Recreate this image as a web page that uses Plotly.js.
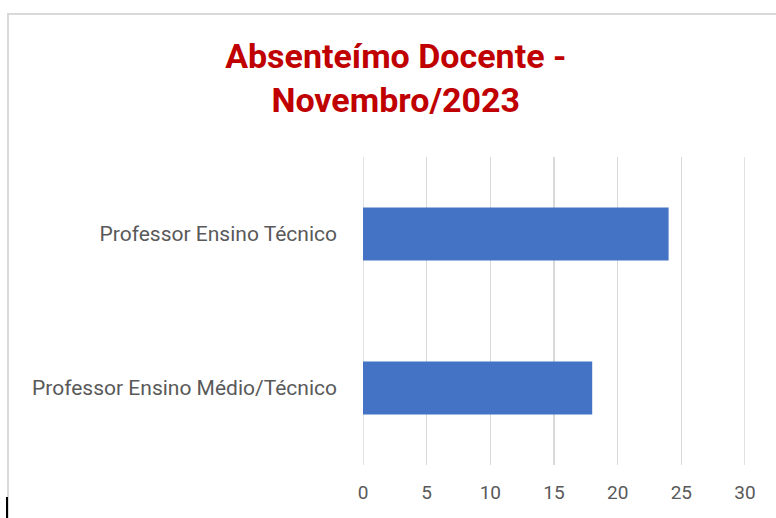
<!DOCTYPE html>
<html>
<head>
<meta charset="utf-8">
<script src="https://cdn.plot.ly/plotly-3.0.1.min.js"></script>
<style>
  html, body { margin: 0; padding: 0; background: #ffffff; overflow: hidden; }
  #chart { position: absolute; left: 0; top: 0; width: 776px; height: 518px; }
  #frame { position: absolute; left: 7px; top: 13px; width: 800px; height: 600px;
           border-left: 2px solid #d9d9d9; border-top: 2px solid #d9d9d9; pointer-events: none; }
  #mark { position: absolute; left: 6px; top: 497px; width: 2px; height: 21px; background: #000; }
</style>
</head>
<body>
<div id="chart"></div>
<div id="frame"></div>
<div id="mark"></div>
<script>
const chartTitle = 'Absenteímo Docente -<br>Novembro/2023';
const categories = ['Professor Ensino Médio/Técnico', 'Professor Ensino Técnico'];
const values = [18, 24];
const tickValues = [0, 5, 10, 15, 20, 25, 30];
const tickLabels = ['0', '5', '10', '15', '20', '25', '30'];
const axisMin = 0;
const axisMax = 30;

const trace = {
  type: 'bar',
  orientation: 'h',
  y: categories,
  x: values,
  marker: { color: '#4472C4', line: { width: 0 } },
  hoverinfo: 'x+y'
};

// gridlines at the two range ends (Plotly omits grid lines on the plot edges)
const edgeGrid = [axisMin, axisMax].map(v => ({
  type: 'line', xref: 'x', yref: 'paper', x0: v, x1: v, y0: 0, y1: 1,
  line: { color: '#d9d9d9', width: 1.5 }, layer: 'below'
}));

const layout = {
  width: 776,
  height: 518,
  paper_bgcolor: '#ffffff',
  plot_bgcolor: '#ffffff',
  margin: { l: 363, r: 31, t: 157, b: 53 },
  showlegend: false,
  bargap: 0.655,
  font: { family: 'Roboto, "Open Sans", sans-serif', color: '#595959' },
  title: {
    text: chartTitle,
    font: { family: 'Roboto, "Open Sans", sans-serif', size: 34, color: '#C00000', weight: 'bold' },
    xref: 'container', x: 0.51, xanchor: 'center',
    yref: 'container', y: 1 - 68 / 518, yanchor: 'top'
  },
  shapes: edgeGrid,
  xaxis: {
    range: [axisMin, axisMax],
    tickvals: tickValues,
    ticktext: tickLabels,
    showgrid: true,
    gridcolor: '#d9d9d9',
    gridwidth: 1.5,
    zeroline: false,
    showline: false,
    ticks: '',
    ticklabelstandoff: 14,
    tickfont: { size: 19, color: '#595959' },
    fixedrange: true
  },
  yaxis: {
    type: 'category',
    categoryorder: 'array',
    categoryarray: categories,
    showgrid: false,
    zeroline: false,
    showline: false,
    ticks: '',
    ticklabelstandoff: 25,
    tickfont: { size: 21, color: '#595959' },
    fixedrange: true
  }
};

Plotly.newPlot('chart', [trace], layout, { displayModeBar: false, staticPlot: true });
</script>
</body>
</html>
